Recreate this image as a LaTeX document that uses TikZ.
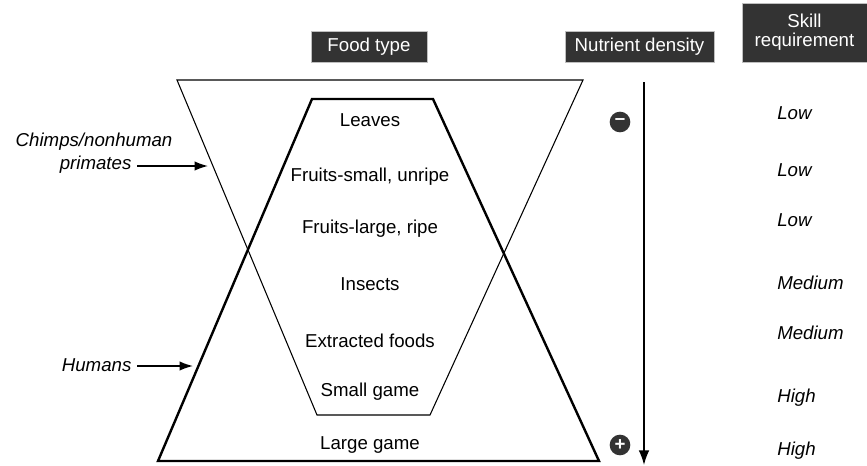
\documentclass[tikz,border=0pt]{standalone}
\usepackage{fontspec}
\setmainfont{Liberation Sans}
\usetikzlibrary{arrows.meta}
\definecolor{hdrgray}{HTML}{333333}
\tikzset{
  header/.style={fill=hdrgray, draw=gray!50, text=white, inner sep=0pt,
    minimum height=23.25pt, font=\fontsize{14}{16}\selectfont},
  food/.style={font=\fontsize{14}{16}\selectfont},
  skill/.style={anchor=west, inner sep=0pt, font=\fontsize{14}{16}\selectfont\itshape},
  who/.style={anchor=east, inner sep=1pt, font=\fontsize{14}{16}\selectfont\itshape},
  sign/.style={circle, fill=hdrgray, text=white, minimum size=15.5pt, inner sep=0pt,
    font=\fontsize{14}{14}\selectfont\bfseries},
  ptr/.style={-{Latex[length=10pt,width=7pt]}, line width=1.1pt}
}
\begin{document}
\begin{tikzpicture}[x=0.75pt, y=-0.75pt]
  \useasboundingbox (0,0) rectangle (867,465);
  % chimps / nonhuman primates
  \draw[line width=0.8pt] (177,80) -- (583,80) -- (430,415) -- (317,415) -- cycle;
  % humans
  \draw[line width=1.8pt] (312,99) -- (433,99) -- (599,461) -- (158,461) -- cycle;
  % column heads
  \node[header, minimum width=87pt] (foodtype) at (369,46.5) {Food type};
  \node[header, minimum width=111.75pt] (nutrient) at (639.5,46.5) {Nutrient density};
  \node[header, minimum width=93.75pt, minimum height=44.25pt, align=center]
    (skill) at (804.5,32.5) {Skill\\[-2pt]requirement};
  % food types
  \node[food] (leaves) at (370,120) {Leaves};
  \node[food] (fsmall) at (370,177) {Fruits-small, unripe};
  \node[food] (flarge) at (370,229) {Fruits-large, ripe};
  \node[food] (insects) at (370,284) {Insects};
  \node[food] (extracted) at (370,341) {Extracted foods};
  \node[food] (sgame) at (370,392) {Small game};
  \node[food] (lgame) at (370,445) {Large game};
  % nutrient density
  \coordinate (ntop) at (644,82);
  \coordinate (nbot) at (644,465);
  \draw[-{Latex[length=11pt,width=8pt]}, line width=1.1pt] (ntop) -- (nbot);
  \node[sign] (minus) at (620,122) {--};
  \node[sign] (plus) at (620,445) {+};
  % skill requirement
  \node[skill] (s1) at (777,113) {Low};
  \node[skill] (s2) at (777,170) {Low};
  \node[skill] (s3) at (777,220) {Low};
  \node[skill] (s4) at (777,283) {Medium};
  \node[skill] (s5) at (777,333) {Medium};
  \node[skill] (s6) at (777,398) {High};
  \node[skill] (s7) at (777,451) {High};
  % who eats what
  \node[who] (chimps) at (174,142) {Chimps/nonhuman};
  \node[who] (primates) at (133,165) {primates};
  \coordinate (chimpline) at (208,166);
  \draw[ptr] (primates.east) ++(4,1) -- (chimpline);
  \node[who] (humans) at (133,365) {Humans};
  \coordinate (humanline) at (193,366);
  \draw[ptr] (humans.east) ++(4,1) -- (humanline);
\end{tikzpicture}
\end{document}
